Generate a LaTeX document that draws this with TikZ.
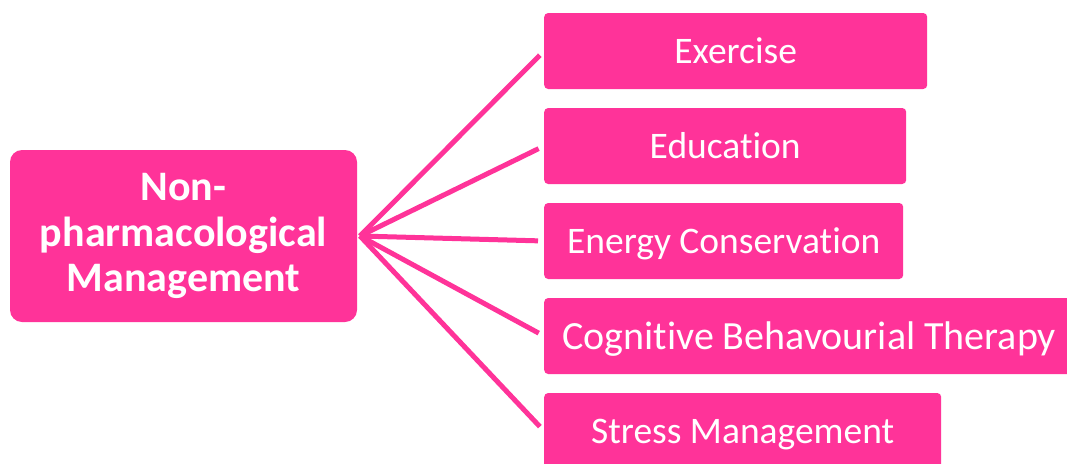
\documentclass[tikz,border=0pt]{standalone}
\usepackage{fontspec}
\setmainfont{Carlito}[Ligatures=NoCommon]
\usepackage{tikz}
\usetikzlibrary{positioning}
\definecolor{pink}{HTML}{FF3399}
\definecolor{text}{HTML}{FFFFFF}
\tikzset{
  hubbox/.style={fill=pink, rounded corners=12pt, text=text, align=center,
    font=\fontsize{42}{45.5}\selectfont\bfseries,
    minimum width=347pt, minimum height=172pt, inner sep=0pt},
  leaf/.style={fill=pink, rounded corners=4pt, text=text, anchor=west,
    font=\fontsize{37.5}{41}\selectfont, text height=24pt, text depth=0pt,
    minimum height=76pt, inner sep=0pt},
  bigleaf/.style={leaf, font=\fontsize{40}{44}\selectfont, text height=26pt},
  spoke/.style={draw=pink, line width=5pt, shorten >=6pt}
}
\begin{document}
\begin{tikzpicture}[x=1pt,y=-1pt]
  \useasboundingbox (0,0) rectangle (1067,463);
  \node[hubbox] (mgmt) at (183.5,236) {Non-\\pharmacological\\Management};
  \coordinate (hub) at (360,236);
  \node[leaf,minimum width=383pt] (ex) at (544,51) {Exercise};
  \node[leaf,minimum width=362pt] (ed) at (544,146) {Education};
  \node[leaf,minimum width=359pt] (en) at (544,241) {Energy Conservation};
  \node[bigleaf,minimum width=530pt] (cbt) at (544,336) {Cognitive Behavourial Therapy};
  \node[leaf,minimum width=397pt] (sm) at (544,431) {Stress Management};
  \foreach \n in {ex,ed,en,cbt,sm}{
    \draw[spoke] (hub)--(\n.west);
  }
\end{tikzpicture}
\end{document}
